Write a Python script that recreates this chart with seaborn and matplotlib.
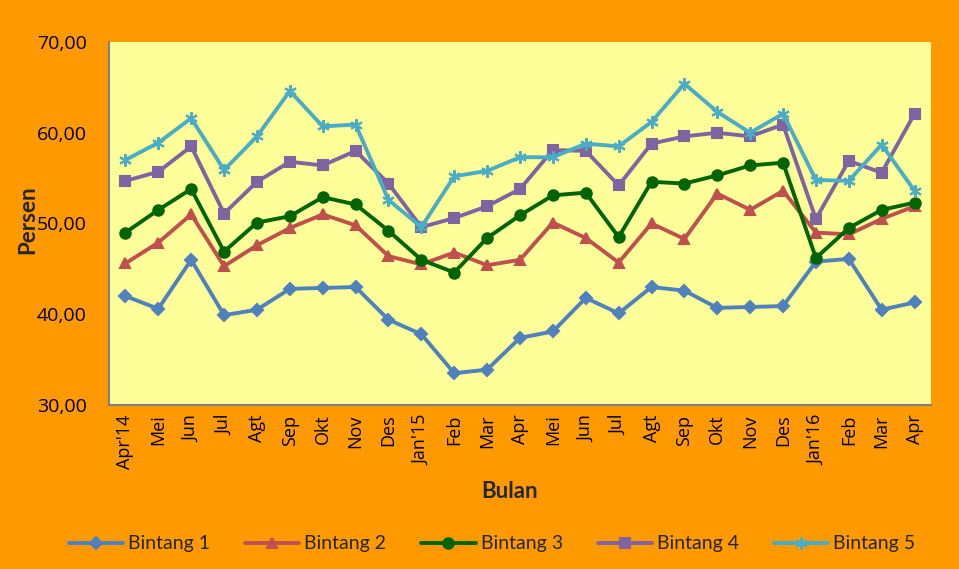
import numpy as np
import pandas as pd
import matplotlib
matplotlib.use("Agg")
import matplotlib.pyplot as plt
import seaborn as sns
from matplotlib.ticker import FuncFormatter, FixedLocator

months = ["Apr'14", "Mei", "Jun", "Jul", "Agt", "Sep", "Okt", "Nov", "Des", "Jan'15",
          "Feb", "Mar", "Apr", "Mei", "Jun", "Jul", "Agt", "Sep", "Okt", "Nov", "Des",
          "Jan'16", "Feb", "Mar", "Apr"]

bintang1 = [42.0, 40.6, 46.0, 39.9, 40.5, 42.8, 42.9, 43.0, 39.4, 37.8, 33.5, 33.9,
            37.4, 38.1, 41.8, 40.1, 43.0, 42.6, 40.7, 40.8, 40.9, 45.8, 46.1, 40.5, 41.3]
bintang2 = [45.6, 47.9, 51.0, 45.3, 47.6, 49.5, 51.0, 49.8, 46.4, 45.5, 46.8, 45.4,
            46.0, 50.1, 48.4, 45.7, 50.0, 48.3, 53.3, 51.5, 53.6, 49.0, 48.8, 50.5, 51.9]
bintang3 = [49.0, 51.5, 53.8, 46.9, 50.1, 50.8, 52.9, 52.1, 49.2, 46.0, 44.6, 48.4,
            50.9, 53.1, 53.4, 48.5, 54.6, 54.4, 55.3, 56.4, 56.7, 46.2, 49.5, 51.5, 52.3]
bintang4 = [54.7, 55.7, 58.5, 51.1, 54.6, 56.8, 56.4, 58.0, 54.4, 49.6, 50.6, 51.9,
            53.8, 58.1, 58.0, 54.2, 58.8, 59.6, 60.0, 59.6, 60.9, 50.5, 56.9, 55.6, 62.1]
bintang5 = [57.0, 58.9, 61.6, 55.9, 59.6, 64.6, 60.7, 60.9, 52.6, 49.6, 55.2, 55.8,
            57.3, 57.3, 58.8, 58.5, 61.2, 65.4, 62.3, 60.0, 62.1, 54.8, 54.7, 58.7, 53.6]

series_names = ["Bintang 1", "Bintang 2", "Bintang 3", "Bintang 4", "Bintang 5"]
series_values = [bintang1, bintang2, bintang3, bintang4, bintang5]
colors = ["#4F81BD", "#C0504D", "#006400", "#8064A2", "#4BACC6"]
markers = ["D", "^", "o", "s", (6, 2, 0)]
msizes = [6, 7.5, 7.5, 7.5, 9]

sns.set_theme(style="white")
plt.rcParams["font.family"] = ["Open Sans", "DejaVu Sans"]

fig = plt.figure(figsize=(9.59, 5.69), dpi=100)
fig.patch.set_facecolor("#FF9900")
ax = fig.add_axes([109 / 959, 1 - 405 / 569, (931 - 109) / 959, (405 - 42) / 569])
ax.set_facecolor("#FFFF99")

x = np.arange(len(months))
for name, vals, c, m, ms in zip(series_names, series_values, colors, markers, msizes):
    df = pd.DataFrame({"x": x, "y": vals})
    sns.lineplot(data=df, x="x", y="y", ax=ax, color=c, linewidth=2.8,
                 marker=m, markersize=ms, markeredgecolor=c, markerfacecolor=c,
                 markeredgewidth=1.5, label=name)

ax.set_xlim(-0.5, len(months) - 0.5)
ax.set_ylim(30, 70)
ax.set_yticks([30, 40, 50, 60, 70])
ax.yaxis.set_major_formatter(FuncFormatter(lambda v, p: f"{v:.2f}".replace(".", ",")))
ax.set_xticks(x)
ax.set_xticklabels(months, rotation=90, fontsize=13)
ax.xaxis.set_minor_locator(FixedLocator(np.arange(-0.5, len(months), 1.0)))
ax.tick_params(axis="x", which="major", length=0, pad=7, colors="black")
ax.tick_params(axis="x", which="minor", length=5, width=1.5, color="#808080", direction="out")
ax.tick_params(axis="y", which="major", length=6, width=1.5, color="#808080",
               direction="out", labelsize=14, pad=10)
ax.tick_params(axis="y", labelcolor="black")

for s in ["top", "right"]:
    ax.spines[s].set_visible(False)
for s in ["left", "bottom"]:
    ax.spines[s].set_color("#808080")
    ax.spines[s].set_linewidth(1.5)

ax.set_xlabel("")
ax.set_ylabel("")
fig.text(28 / 959, 1 - 220 / 569, "Persen", rotation=90, ha="center", va="center",
         fontsize=16, fontweight="bold", family=["Lato", "DejaVu Sans"])
fig.text(510 / 959, 1 - 492 / 569, "Bulan", ha="center", va="center",
         fontsize=16, fontweight="bold", family=["Lato", "DejaVu Sans"])

ax.get_legend().remove()
handles, labels = ax.get_legend_handles_labels()
fig.legend(handles, labels, loc="center", bbox_to_anchor=(492 / 959, 1 - 544 / 569),
           ncol=5, frameon=False, handlelength=2.8, columnspacing=1.8,
           handletextpad=0.25, prop={"family": ["Lato", "DejaVu Sans"], "size": 14})

fig.savefig("out.png", dpi=100, facecolor=fig.get_facecolor())
